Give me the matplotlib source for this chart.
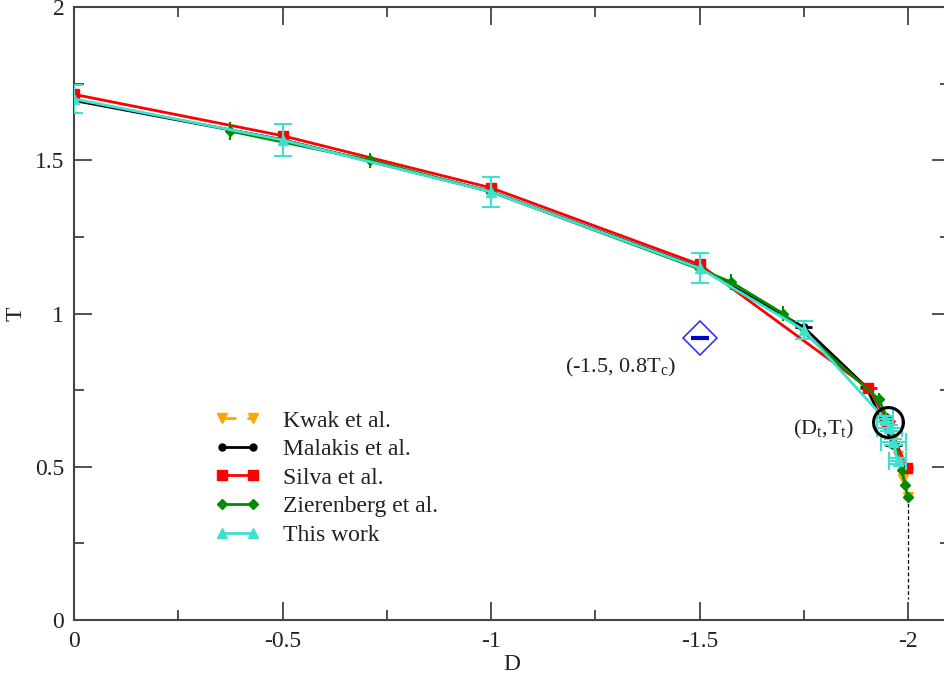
import matplotlib
matplotlib.use("Agg")
import matplotlib.pyplot as plt
from matplotlib.ticker import MultipleLocator
from matplotlib.lines import Line2D

plt.rcParams['font.family'] = ['Liberation Serif', 'DejaVu Serif']
plt.rcParams['mathtext.fontset'] = 'custom'
plt.rcParams['mathtext.rm'] = 'Liberation Serif'
plt.rcParams['mathtext.it'] = 'Liberation Serif:italic'

# ---- data ----
kwak_D = [-1.955, -1.965, -1.976, -1.988, -2.0]
kwak_T = [0.63, 0.59, 0.535, 0.46, 0.40]

mal_D = [0.0, -0.5, -1.0, -1.5, -1.75, -1.90, -1.965]
mal_T = [1.695, 1.567, 1.398, 1.150, 0.955, 0.760, 0.571]
mal_xerr = [0.0, 0.0, 0.0, 0.01, 0.02, 0.015, 0.02]

sil_D = [0.0, -0.5, -1.0, -1.5, -1.905, -1.95, -1.997]
sil_T = [1.715, 1.580, 1.410, 1.160, 0.757, 0.650, 0.496]
sil_xerr = [0.0, 0.0, 0.0, 0.01, 0.02, 0.02, 0.015]

zie_D = [-0.375, -0.71, -1.0, -1.5, -1.575, -1.70, -1.93, -1.95, -1.97, -1.985, -1.993, -2.0]
zie_T = [1.595, 1.500, 1.397, 1.145, 1.103, 1.000, 0.720, 0.660, 0.570, 0.490, 0.440, 0.400]
zie_yerr = [0.029, 0.025, 0.025, 0.02, 0.025, 0.025, 0.02, 0.01, 0.01, 0.01, 0.01, 0.01]

tw_D = [0.0, -0.5, -1.0, -1.5, -1.75, -1.945, -1.955, -1.965, -1.975]
tw_T = [1.700, 1.566, 1.397, 1.148, 0.946, 0.655, 0.626, 0.580, 0.520]
tw_yerr = [0.047, 0.052, 0.049, 0.050, 0.030, 0.01, 0.01, 0.01, 0.01]
tw_xerr = [0.0, 0.0, 0.0, 0.0, 0.0, 0.02, 0.03, 0.03, 0.02]

vert_D = [-2.0, -2.0]
vert_T = [0.40, 0.07]

half_D, half_T = -1.5, 0.92
trip_D, trip_T = -1.952, 0.646

labels = ["Kwak et al.", "Malakis et al.", "Silva et al.", "Zierenberg et al.", "This work"]

# ---- figure ----
fig = plt.figure(figsize=(9.44, 6.8), dpi=100)
ax = fig.add_axes([74/944, 60/680, (949.7-74)/944, 613/680])

orange = '#FFA500'
black = '#000000'
red = '#FF0000'
green = '#008C00'
cyan = '#40E0D0'

ax.plot(vert_D, vert_T, color='black', lw=0.9, ls=(0, (3, 2)), zorder=2)

ax.plot(kwak_D, kwak_T, color=orange, marker='v', lw=2, ms=7, dashes=(5, 4), zorder=3)
ax.errorbar(mal_D, mal_T, xerr=mal_xerr, color=black, fmt='o-', lw=2, ms=5,
            elinewidth=2, capsize=0, zorder=3)
ax.errorbar(sil_D, sil_T, xerr=sil_xerr, color=red, fmt='s-', lw=2, ms=7,
            elinewidth=2, capsize=0, zorder=3)
ax.errorbar(zie_D, zie_T, yerr=zie_yerr, color=green, fmt='D-', lw=2, ms=5,
            elinewidth=1.5, capsize=0, zorder=4)
ax.errorbar(tw_D, tw_T, yerr=tw_yerr, xerr=tw_xerr, color=cyan, fmt='^-', lw=2, ms=7,
            elinewidth=1.5, capsize=6.5, capthick=1.5, zorder=5)

# special markers
ax.plot([half_D], [half_T], marker='D', ms=17.5, mfc='none', mec='#3333FF', mew=1.2, zorder=6)
ax.plot([half_D], [half_T], marker='_', ms=13, mec='#0000CC', mew=3, zorder=6)
ax.plot([trip_D], [trip_T], marker='o', ms=21.5, mfc='none', mec='black', mew=2.2, zorder=7)

ax.text(-1.177, 0.806, r'(-1.5, 0.8T$_\mathrm{c}$)', fontsize=16, color='#222222',
        ha='left', va='baseline')
ax.text(-1.724, 0.604, r'(D$_\mathrm{t}$,T$_\mathrm{t}$)', fontsize=16, color='#222222',
        ha='left', va='baseline')

ax.set_xlim(0, -2.1)
ax.set_ylim(0, 2)
ax.xaxis.set_minor_locator(MultipleLocator(0.25))
ax.yaxis.set_minor_locator(MultipleLocator(0.25))
ax.set_xticks([0, -0.5, -1, -1.5, -2])
ax.set_xticklabels(['0', '-0.5', '-1', '-1.5', '-2'])
ax.set_yticks([0, 0.5, 1, 1.5, 2])
ax.set_yticklabels(['0', '0.5', '1', '1.5', '2'])

ax.tick_params(which='both', direction='in', top=True, right=True, colors='#222222',
               labelcolor='#222222', labelsize=17)
ax.tick_params(which='major', length=13, width=1.1)
ax.tick_params(axis='x', which='major', pad=8)
ax.tick_params(axis='y', which='major', pad=7)
ax.tick_params(which='minor', length=7, width=1.1)
for sp in ax.spines.values():
    sp.set_linewidth(1.5)
    sp.set_color('#444444')

ax.set_xlabel('D', fontsize=17, color='#222222', labelpad=1)
ax.set_ylabel('T', fontsize=17, color='#222222')
ax.yaxis.set_label_coords(-0.054, 0.5)

handles = [
    Line2D([], [], color=orange, marker='v', lw=2, ms=7, dashes=(5, 4)),
    Line2D([], [], color=black, marker='o', lw=2, ms=5),
    Line2D([], [], color=red, marker='s', lw=2, ms=7),
    Line2D([], [], color=green, marker='D', lw=2, ms=5),
    Line2D([], [], color=cyan, marker='^', lw=2, ms=7),
]
leg = ax.legend(handles=handles, labels=labels, loc='upper left',
                bbox_to_anchor=(0.161, 0.3426), frameon=False, fontsize=17,
                numpoints=2, handlelength=1.9, handletextpad=1.0, labelspacing=0.3,
                borderpad=0, borderaxespad=0)
for t in leg.get_texts():
    t.set_color('#222222')

fig.savefig('out.png', dpi=100)
